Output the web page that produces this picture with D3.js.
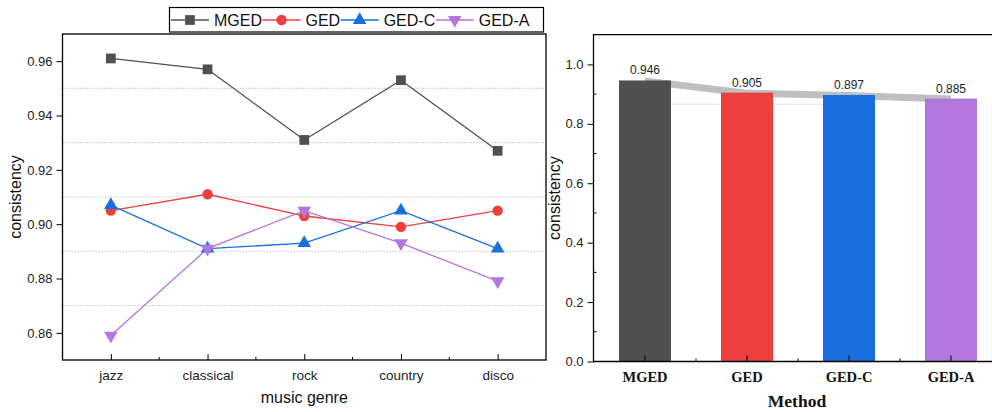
<!DOCTYPE html>
<html>
<head>
<meta charset="utf-8">
<script src="https://cdn.jsdelivr.net/npm/d3@7"></script>
<style>
  body { margin: 0; background: #fff; }
  svg { display: block; font-family: "Liberation Sans", Arial, sans-serif; }
</style>
</head>
<body>
<svg id="chart" width="992" height="412"></svg>
<script>
// ---- data ----
var genres = ['jazz', 'classical', 'rock', 'country', 'disco'];
var seriesNames = ['MGED', 'GED', 'GED-C', 'GED-A'];
var mged = [0.961, 0.957, 0.931, 0.953, 0.927];
var ged = [0.905, 0.911, 0.903, 0.899, 0.905];
var gedC = [0.907, 0.891, 0.893, 0.905, 0.891];
var gedA = [0.859, 0.891, 0.905, 0.893, 0.879];
var lineTicks = [0.86, 0.88, 0.90, 0.92, 0.94, 0.96];
var lineGrid = [0.87, 0.89, 0.91, 0.93, 0.95];

var methods = ['MGED', 'GED', 'GED-C', 'GED-A'];
var avgConsistency = [0.946, 0.905, 0.897, 0.885];
var barTicks = [0, 0.2, 0.4, 0.6, 0.8, 1.0];
var barMinor = [0.1, 0.3, 0.5, 0.7, 0.9];
var refLine = 0.866;

var colors = ['#505050', '#ef4040', '#1a6fdf', '#b177de'];

var svg = d3.select('#chart');

// ================= left: line chart =================
var L = { left: 62.5, right: 546, top: 34, bottom: 360 };
var x = d3.scalePoint().domain(genres).range([L.left, L.right]).padding(0.5);
var y = d3.scaleLinear().domain([0.85, 0.97]).range([L.bottom, L.top]);

var left = svg.append('g');

// dotted grid
left.selectAll('line.grid').data(lineGrid).enter().append('line')
  .attr('x1', L.left).attr('x2', L.right)
  .attr('y1', function(d) { return y(d); }).attr('y2', function(d) { return y(d); })
  .attr('stroke', '#c4c4c4').attr('stroke-width', 1).attr('stroke-dasharray', '1.5,1.5');

// y axis
var yAx = left.append('g').attr('transform', 'translate(' + L.left + ',0)')
  .call(d3.axisLeft(y).tickValues(lineTicks).tickSize(6).tickPadding(4).tickFormat(d3.format('.2f')));
yAx.select('.domain').remove();
yAx.selectAll('text').attr('font-size', 13).attr('fill', '#222').style('font-family', '"Liberation Sans", Arial');

// x axis (ticks inward)
var xAx = left.append('g').attr('transform', 'translate(0,' + L.bottom + ')')
  .call(d3.axisBottom(x).tickSize(-6).tickPadding(10));
xAx.select('.domain').remove();
xAx.selectAll('text').attr('font-size', 13.5).attr('fill', '#222').style('font-family', '"Liberation Sans", Arial');
// minor x ticks
var mids = genres.slice(1).map(function(g, i) { return (x(genres[i]) + x(g)) / 2; });
left.selectAll('line.minor').data(mids).enter().append('line')
  .attr('x1', function(d) { return d; }).attr('x2', function(d) { return d; })
  .attr('y1', L.bottom).attr('y2', L.bottom - 3).attr('stroke', '#000');

// frame
left.append('rect').attr('x', L.left).attr('y', L.top)
  .attr('width', L.right - L.left).attr('height', L.bottom - L.top)
  .attr('fill', 'none').attr('stroke', '#000').attr('stroke-width', 1.3);

// series
var allSeries = [mged, ged, gedC, gedA];
var symbols = [
  d3.symbol().type(d3.symbolSquare).size(95),
  d3.symbol().type(d3.symbolCircle).size(85),
  d3.symbol().type(d3.symbolTriangle).size(80),
  d3.symbol().type(d3.symbolTriangle).size(80)
];
var rot = [0, 0, 0, 180];
var line = d3.line().x(function(d, i) { return x(genres[i]); }).y(function(d) { return y(d); });

allSeries.forEach(function(vals, s) {
  left.append('path').datum(vals).attr('d', line)
    .attr('fill', 'none').attr('stroke', colors[s]).attr('stroke-width', 1.3);
});
allSeries.forEach(function(vals, s) {
  left.selectAll('path.m' + s).data(vals).enter().append('path')
    .attr('d', symbols[s])
    .attr('transform', function(d, i) {
      return 'translate(' + x(genres[i]) + ',' + y(d) + ') rotate(' + rot[s] + ')';
    })
    .attr('fill', colors[s]);
});

// axis titles
left.append('text').attr('transform', 'translate(21,' + ((L.top + L.bottom) / 2) + ') rotate(-90)')
  .attr('text-anchor', 'middle').attr('font-size', 16).attr('fill', '#111').text('consistency');
left.append('text').attr('x', (L.left + L.right) / 2).attr('y', 403)
  .attr('text-anchor', 'middle').attr('font-size', 16).attr('fill', '#111').text('music genre');

// legend
var leg = svg.append('g');
leg.append('rect').attr('x', 169.5).attr('y', 7.5).attr('width', 374).attr('height', 24.5)
  .attr('fill', '#fff').attr('stroke', '#000').attr('stroke-width', 1.2);
var lx = 171, ly = 20;
seriesNames.forEach(function(name, s) {
  leg.append('line').attr('x1', lx).attr('x2', lx + 38).attr('y1', ly).attr('y2', ly)
    .attr('stroke', colors[s]).attr('stroke-width', 1.3);
  leg.append('path').attr('d', symbols[s])
    .attr('transform', 'translate(' + (lx + 19) + ',' + ly + ') rotate(' + rot[s] + ')')
    .attr('fill', colors[s]);
  var t = leg.append('text').attr('x', lx + 43).attr('y', ly + 6).attr('font-size', 16)
    .attr('fill', '#111').text(name);
  lx = lx + 43 + t.node().getComputedTextLength() + 0.5;
});

// ================= right: bar chart =================
var R = { left: 593.5, top: 34.7, bottom: 361.5 };
var xb = d3.scaleBand().domain(methods).range([R.left, 1002.5]).paddingInner(0.49).paddingOuter(0.25);
var yb = d3.scaleLinear().domain([0, 1.1]).range([R.bottom, R.top]);

var right = svg.append('g');

// faint reference line
right.append('line')
  .attr('x1', xb('MGED') + xb.bandwidth() / 2).attr('x2', xb('GED-C') + xb.bandwidth() / 2)
  .attr('y1', yb(refLine)).attr('y2', yb(refLine))
  .attr('stroke', '#e4e4e4').attr('stroke-width', 1);

// gray connector band
var cx = function(m) { return xb(m) + xb.bandwidth() / 2; };
var bandPts = methods.map(function(m, i) { return [cx(m), yb(avgConsistency[i]) - 3]; })
  .concat(methods.slice().reverse().map(function(m, j) {
    var i = methods.length - 1 - j;
    return [cx(m), yb(avgConsistency[i]) + 4];
  }));
right.append('path').attr('d', 'M' + bandPts.join('L') + 'Z').attr('fill', '#bfbfbf');

// bars
right.selectAll('rect.bar').data(avgConsistency).enter().append('rect')
  .attr('x', function(d, i) { return xb(methods[i]); })
  .attr('y', function(d) { return yb(d); })
  .attr('width', xb.bandwidth())
  .attr('height', function(d) { return R.bottom - yb(d); })
  .attr('fill', function(d, i) { return colors[i]; });

// value labels
right.selectAll('text.val').data(avgConsistency).enter().append('text')
  .attr('x', function(d, i) { return cx(methods[i]); })
  .attr('y', function(d) { return yb(d) - 6; })
  .attr('text-anchor', 'middle').attr('font-size', 12).attr('fill', '#222')
  .text(function(d) { return d3.format('.3f')(d); });

// y axis
var ybAx = right.append('g').attr('transform', 'translate(' + R.left + ',0)')
  .call(d3.axisLeft(yb).tickValues(barTicks).tickSize(6).tickPadding(4).tickFormat(d3.format('.1f')));
ybAx.select('.domain').remove();
ybAx.selectAll('text').attr('font-size', 13).attr('fill', '#222').style('font-family', '"Liberation Sans", Arial');
right.selectAll('line.yminor').data(barMinor).enter().append('line')
  .attr('x1', R.left).attr('x2', R.left + 3)
  .attr('y1', function(d) { return yb(d); }).attr('y2', function(d) { return yb(d); })
  .attr('stroke', '#000');

// x axis
var xbAx = right.append('g').attr('transform', 'translate(0,' + R.bottom + ')')
  .call(d3.axisBottom(xb).tickSize(-6).tickPadding(10));
xbAx.select('.domain').remove();
xbAx.selectAll('text').attr('font-size', 14.5).attr('font-weight', 'bold').attr('fill', '#111')
  .style('font-family', '"Liberation Serif", "Times New Roman", serif');
var bmids = methods.slice(1).map(function(m, i) { return (cx(methods[i]) + cx(m)) / 2; });
right.selectAll('line.xminor').data(bmids).enter().append('line')
  .attr('x1', function(d) { return d; }).attr('x2', function(d) { return d; })
  .attr('y1', R.bottom).attr('y2', R.bottom - 3).attr('stroke', '#000');

// frame (left, bottom, top)
right.append('path')
  .attr('d', 'M992,' + R.top + 'H' + R.left + 'V' + R.bottom + 'H992')
  .attr('fill', 'none').attr('stroke', '#000').attr('stroke-width', 1.3);

// titles
right.append('text').attr('transform', 'translate(560,' + ((R.top + R.bottom) / 2) + ') rotate(-90)')
  .attr('text-anchor', 'middle').attr('font-size', 16).attr('fill', '#111').text('consistency');
right.append('text').attr('x', 797).attr('y', 407)
  .attr('text-anchor', 'middle').attr('font-size', 17.5).attr('font-weight', 'bold').attr('fill', '#111')
  .style('font-family', '"Liberation Serif", "Times New Roman", serif').text('Method');
</script>
</body>
</html>
